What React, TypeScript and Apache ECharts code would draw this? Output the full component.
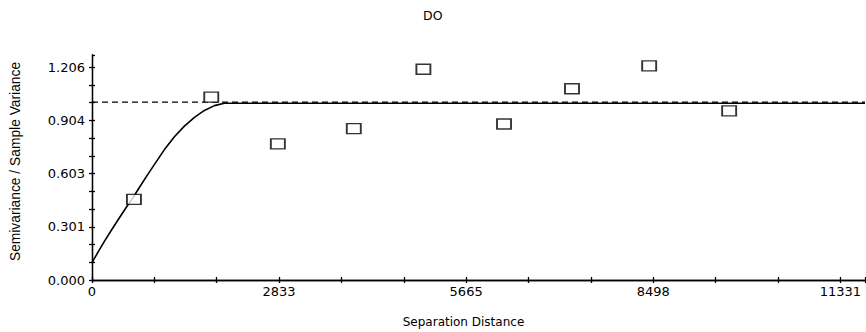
import React, { useEffect, useRef } from "react";
import * as echarts from "echarts";

// Experimental semivariance points (separation distance, semivariance / sample variance)
const lagDistance = [635, 1806, 2814, 3964, 5018, 6239, 7268, 8437, 9648];
const semivariance = [0.457, 1.036, 0.771, 0.858, 1.194, 0.884, 1.084, 1.213, 0.958];

// Fitted model curve
const modelDistance = [0, 91, 192, 293, 393, 520, 620, 722, 823, 946, 1097, 1248, 1399, 1551, 1702, 1853, 2004, 11705];
const modelValue = [0.098, 0.158, 0.222, 0.282, 0.34, 0.412, 0.466, 0.527, 0.586, 0.655, 0.739, 0.812, 0.872, 0.922, 0.961, 0.988, 1.002, 1.002];

// Sill (sample variance) dashed reference
const sillDistance = [0, 11705];
const sillValue = [1.008, 1.008];

// Tick labels
const xTickLabels = ["0", "2833", "5665", "8498", "11331"];
const yTickLabels = ["0.000", "0.301", "0.603", "0.904", "1.206"];

const X_STEP = 944.25;
const Y_STEP = 0.1005;
const X_MAX = 11705;
const Y_MAX = 1.275;

function labelFor(value: number, step: number, labels: string[]) {
  const k = value / step;
  const r = Math.round(k);
  if (Math.abs(k - r) < 1e-6 && r % 3 === 0 && r / 3 < labels.length) return labels[r / 3];
  return "";
}

export default function App() {
  const ref = useRef<HTMLDivElement>(null);
  useEffect(() => {
    if (!ref.current) return;
    const chart = echarts.init(ref.current, undefined, { renderer: "svg" });
    const font = "DejaVu Sans";
    const axisCommon = {
      axisLine: { show: true, lineStyle: { color: "#000", width: 1.3 } },
      splitLine: { show: false },
    };
    chart.setOption({
      animation: false,
      backgroundColor: "#fff",
      title: {
        text: "DO",
        left: 418,
        top: 4,
        textStyle: { fontFamily: font, fontSize: 12.5, fontWeight: "normal", color: "#000" },
      },
      grid: { left: 92, right: 1, top: 55, bottom: 52, containLabel: false, outerBoundsMode: "none" },
      xAxis: [
        {
          type: "value",
          min: 0,
          max: X_MAX,
          interval: X_STEP,
          ...axisCommon,
          axisTick: { show: true, inside: false, length: 3, lineStyle: { color: "#000", width: 1.3 } },
          axisLabel: {
            margin: 5,
            fontFamily: font,
            fontSize: 13,
            color: "#000",
            showMaxLabel: true,
            formatter: (v: number) => labelFor(v, X_STEP, xTickLabels),
          },
          name: "Separation Distance",
          nameLocation: "middle",
          nameGap: 36,
          nameTextStyle: { fontFamily: font, fontSize: 12, color: "#000", padding: [0, 30, 0, 0] },
        },
        {
          type: "value",
          min: 0,
          max: X_MAX,
          interval: X_STEP,
          position: "bottom",
          ...axisCommon,
          axisTick: { show: true, inside: true, length: 3, lineStyle: { color: "#000", width: 1.3 } },
          axisLabel: { show: false },
        },
      ],
      yAxis: [
        {
          type: "value",
          min: 0,
          max: Y_MAX,
          interval: Y_STEP,
          ...axisCommon,
          axisTick: { show: true, inside: false, length: 3, lineStyle: { color: "#000", width: 1.3 } },
          axisLabel: {
            margin: 7,
            fontFamily: font,
            fontSize: 13,
            color: "#000",
            showMaxLabel: false,
            formatter: (v: number) => labelFor(v, Y_STEP, yTickLabels),
          },
          name: "Semivariance / Sample Variance",
          nameLocation: "middle",
          nameGap: 70,
          nameTextStyle: { fontFamily: "Liberation Sans", fontSize: 13.8, color: "#000", padding: [0, 0, 0, 12] },
        },
        {
          type: "value",
          min: 0,
          max: Y_MAX,
          interval: Y_STEP,
          position: "left",
          ...axisCommon,
          axisTick: { show: true, inside: true, length: 3, lineStyle: { color: "#000", width: 1.3 } },
          axisLabel: { show: false },
        },
      ],
      series: [
        {
          type: "line",
          name: "sill",
          data: sillDistance.map((x, i) => [x, sillValue[i]]),
          showSymbol: false,
          symbol: "none",
          lineStyle: { color: "#000", width: 1.2, type: [6, 4] },
          z: 2,
        },
        {
          type: "line",
          name: "model",
          data: modelDistance.map((x, i) => [x, modelValue[i]]),
          showSymbol: false,
          symbol: "none",
          smooth: false,
          lineStyle: { color: "#000", width: 1.6 },
          z: 3,
        },
        {
          type: "scatter",
          name: "experimental",
          data: lagDistance.map((x, i) => [x, semivariance[i]]),
          symbol: "rect",
          symbolSize: [14, 10],
          itemStyle: { color: "#fff", borderColor: "#000", borderWidth: 1.6 },
          z: 4,
        },
      ],
    });
    return () => chart.dispose();
  }, []);
  return <div ref={ref} style={{ width: 866, height: 332, position: "absolute", left: 0, top: 0 }} />;
}
